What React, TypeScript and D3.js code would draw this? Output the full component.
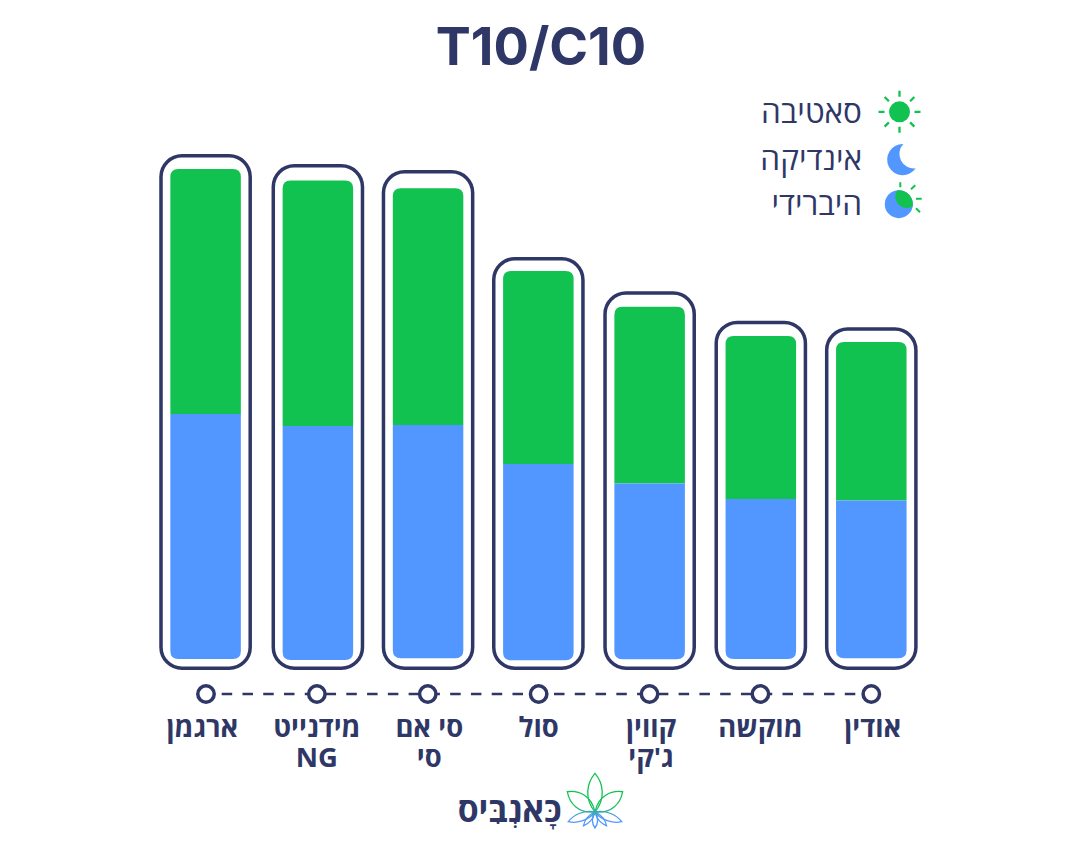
import React from "react";
import * as d3 from "d3";

const categories = ["ארגמן", "מידנייט NG", "סי אם סי", "סול", "קווין ג'קי", "מוקשה", "אודין"];
const labelLines = [["ארגמן"], ["מידנייט", "NG"], ["סי אם", "סי"], ["סול"], ["קווין", "ג'קי"], ["מוקשה"], ["אודין"]];
const baseValues = [0, -0.05, 0.035, -0.065, -0.015, 0, 0.035];
const indicaValues = [12.25, 11.7, 11.67, 9.82, 8.79, 8.0, 7.89];
const sativaValues = [12.25, 12.27, 11.83, 9.65, 8.84, 8.15, 7.93];
const outlineValues = [25.16, 24.66, 24.36, 20.01, 18.3, 16.83, 16.5];
const legendLabels = ["סאטיבה", "אינדיקה", "היברידי"];
const title = "T10/C10";
const logoText = "כָּאנְבִּיס";

const NAVY = "#2f3767";
const GREEN = "#12c250";
const BLUE = "#5297ff";
const FONT = "'Open Sans', 'Liberation Sans', sans-serif";

const x = d3.scalePoint<string>().domain(categories).range([206, 871.3]);
const y = d3.scaleLinear().domain([0, 25]).range([659, 159]);
const BAR_W = 70.5;
const BOX_W = 89.2;
const BOX_BOTTOM = 668.25;
const LABEL_SIZE = 27.4;
const barDx = [-0.4, 1, 0.3, -0.3, 0.1, 0.4, 0];
const labelDx = [-3.6, 0, 1.5, 0, 1.5, 0, 1.5];

function rays(cx: number, cy: number, r1: number, r2: number, angles: number[]) {
  return angles.map((a) => {
    const t = (a * Math.PI) / 180;
    return `M${cx + r1 * Math.cos(t)},${cy + r1 * Math.sin(t)}L${cx + r2 * Math.cos(t)},${cy + r2 * Math.sin(t)}`;
  }).join("");
}

const arcTopRound = (xc: number, top: number, bottom: number, w: number, r: number) =>
  `M${xc - w / 2},${bottom}V${top + r}Q${xc - w / 2},${top} ${xc - w / 2 + r},${top}H${xc + w / 2 - r}Q${xc + w / 2},${top} ${xc + w / 2},${top + r}V${bottom}Z`;
const arcBottomRound = (xc: number, top: number, bottom: number, w: number, r: number) =>
  `M${xc - w / 2},${top}V${bottom - r}Q${xc - w / 2},${bottom} ${xc - w / 2 + r},${bottom}H${xc + w / 2 - r}Q${xc + w / 2},${bottom} ${xc + w / 2},${bottom - r}V${top}Z`;

function leaf(cx: number, cy: number, len: number, wid: number, deg: number) {
  const t = (deg * Math.PI) / 180;
  const p = (px: number, py: number) =>
    `${cx + px * Math.cos(t) - py * Math.sin(t)},${cy + px * Math.sin(t) + py * Math.cos(t)}`;
  return `M${p(0, 0)}C${p(-wid, -len * 0.35)} ${p(-wid * 0.75, -len * 0.75)} ${p(0, -len)}C${p(wid * 0.75, -len * 0.75)} ${p(wid, -len * 0.35)} ${p(0, 0)}Z`;
}

export default function App() {
  return (
    <svg width={1080} height={844} viewBox="0 0 1080 844" style={{ position: "absolute", left: 0, top: 0, background: "#fff" }}>
      <defs>
        <linearGradient id="logoGrad" gradientUnits="userSpaceOnUse" x1="0" y1="773" x2="0" y2="828">
          <stop offset="0" stopColor={GREEN} />
          <stop offset="0.6" stopColor={GREEN} />
          <stop offset="0.8" stopColor={BLUE} />
          <stop offset="1" stopColor={BLUE} />
        </linearGradient>
      </defs>
      <text x={541} y={65} textAnchor="middle" fontFamily={"Inter, Roboto, sans-serif"} fontWeight={700} fontSize={52.5} fill={NAVY}>{title}</text>

      {categories.map((c, i) => {
        const xc = x(c)! + barDx[i];
        const base = y(baseValues[i]);
        const mid = y(baseValues[i] + indicaValues[i]);
        const top = y(baseValues[i] + indicaValues[i] + sativaValues[i]);
        const boxTop = y(outlineValues[i]);
        return (
          <g key={c}>
            <rect x={xc - BOX_W / 2} y={boxTop} width={BOX_W} height={BOX_BOTTOM - boxTop} rx={21} fill="#fff" stroke={NAVY} strokeWidth={3.5} />
            <path d={arcTopRound(xc, top, mid, BAR_W, 8)} fill={GREEN} />
            <path d={arcBottomRound(xc, mid, base, BAR_W, 8)} fill={BLUE} />
          </g>
        );
      })}

      <line x1={221.7} x2={856} y1={694} y2={694} stroke={NAVY} strokeWidth={2.6} strokeDasharray="10.5 10.27" />
      {categories.map((c) => (
        <circle key={c} cx={x(c)!} cy={694} r={8.2} fill="#fff" stroke={NAVY} strokeWidth={3.5} />
      ))}
      {categories.map((c, i) => (
        <text key={c} direction="rtl" textAnchor="middle" fontFamily={FONT} fontWeight={700} fontSize={LABEL_SIZE} fill={NAVY}>
          {labelLines[i].map((l, j) => (
            <tspan key={j} x={x(c)! + labelDx[i]} y={737 + j * 30}>{l}</tspan>
          ))}
        </text>
      ))}

      {legendLabels.map((l, i) => (
        <text key={l} x={862} y={[122.5, 170, 214.5][i]} textAnchor="start" direction="rtl" fontFamily={FONT} fontWeight={400} fontSize={31.5} fill={NAVY}>{l}</text>
      ))}
      <circle cx={899.5} cy={111.8} r={10.5} fill={GREEN} />
      <path d={rays(899.5, 111.8, 15, 21, [0, 45, 90, 135, 180, 225, 270, 315])} stroke={GREEN} strokeWidth={2.3} fill="none" />
      <path d="M903.3,144A15.6,15.6 0 1 0 915.7,168.3A14.5,14.5 0 0 1 903.3,144Z" fill={BLUE} />
      <circle cx={898.8} cy={204.2} r={14} fill={BLUE} />
      <path d="M897,190.4A14,14 0 0 1 912.7,206.5A11.6,11.6 0 0 1 897,190.4Z" fill={GREEN} />
      <path d="M900.3,182.3V187.3M911,189.3L915.3,185.3M916,198.7H921.7M916,208.3L920,212.3" stroke={GREEN} strokeWidth={2} fill="none" />

      <text x={561.7} y={821.5} direction="rtl" textAnchor="start" fontFamily={FONT} fontWeight={700} fontSize={33.8} fill={NAVY}>{logoText}</text>
      <g fill="none" stroke="url(#logoGrad)" strokeWidth={1.3}>
        <path d={leaf(595, 812, 38.7, 11, 0)} />
        <path d={leaf(595, 812, 34.3, 11, -53.8)} />
        <path d={leaf(595, 812, 34.3, 11, 53.8)} />
        <path d={leaf(595, 812, 28.4, 6, -110)} />
        <path d={leaf(595, 812, 28.4, 6, 110)} />
        <path d={leaf(595, 812, 18, 3.5, -140)} />
        <path d={leaf(595, 812, 18, 3.5, 140)} />
        <path d={leaf(595, 812, 16, 4, 180)} />
      </g>
    </svg>
  );
}
